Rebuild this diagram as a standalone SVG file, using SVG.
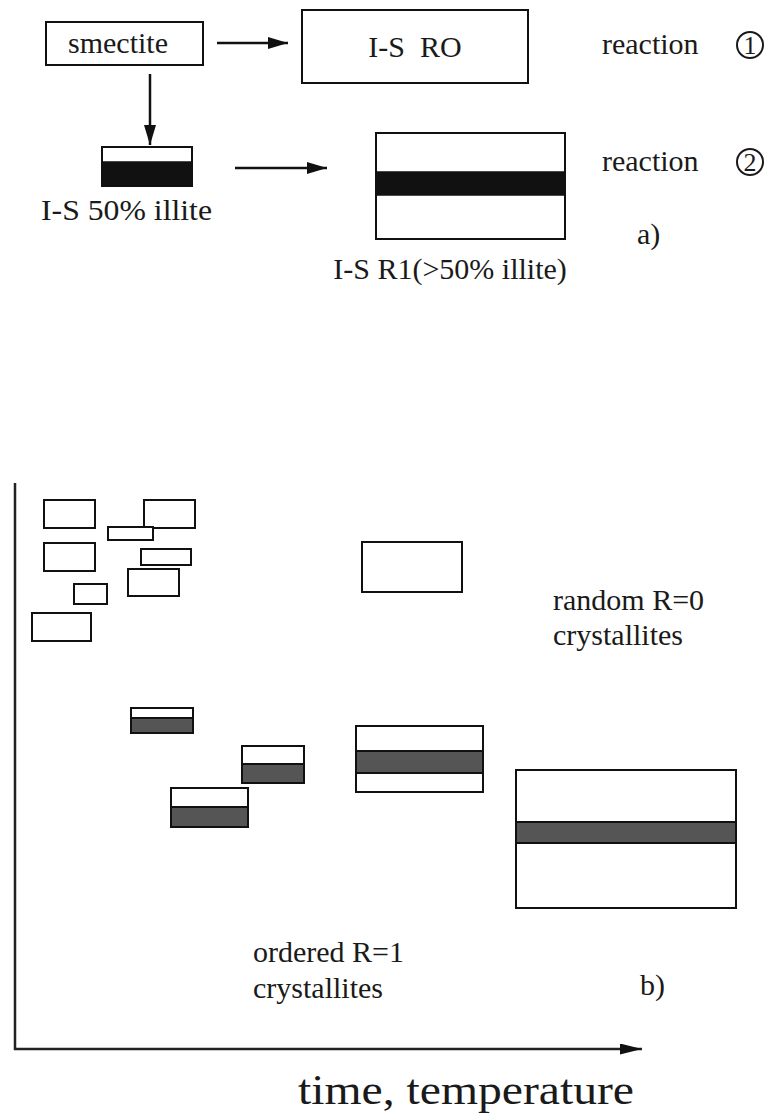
<svg xmlns="http://www.w3.org/2000/svg" width="764" height="1117" viewBox="0 0 764 1117">
  <style>
    .box { fill: #fff; stroke: #111; stroke-width: 2; }
    .band { fill: #111; stroke: #111; stroke-width: 1.5; }
    .gband { fill: #555; stroke: #111; stroke-width: 2; }
    .lbl { font-family: "Liberation Serif", "Times New Roman", serif; font-size: 30px; fill: #1a1a1a; }
    .num { font-family: "Liberation Serif", "Times New Roman", serif; font-size: 26px; fill: #1a1a1a; }
    .axlbl { font-family: "Liberation Serif", "Times New Roman", serif; font-size: 42px; fill: #1a1a1a; }
    .axis { stroke: #222; stroke-width: 2.5; fill: none; }
    .conn { stroke: #111; stroke-width: 2.5; fill: none; }
    .ring { fill: none; stroke: #1a1a1a; stroke-width: 2; }
  </style>
  <defs>
    <!-- filled triangular heads, sized in user units -->
    <marker id="arrow" viewBox="0 0 10 10" refX="10" refY="5" markerWidth="20" markerHeight="12" markerUnits="userSpaceOnUse" orient="auto" preserveAspectRatio="none">
      <path d="M0,0 L10,5 L0,10 z" fill="#111"/>
    </marker>
    <marker id="arrowL" viewBox="0 0 10 10" refX="10" refY="5" markerWidth="22" markerHeight="11" markerUnits="userSpaceOnUse" orient="auto" preserveAspectRatio="none">
      <path d="M0,0 L10,5 L0,10 z" fill="#111"/>
    </marker>
  </defs>
  <rect width="764" height="1117" fill="#fff"/>

  <!-- panel a: reaction scheme -->
  <g id="smectite">
    <rect class="box" x="46" y="22" width="157" height="43"/>
    <text class="lbl" x="118" y="53" text-anchor="middle">smectite</text>
  </g>
  <g id="is-r0">
    <rect class="box" x="302" y="10" width="226" height="73"/>
    <text class="lbl" x="415" y="57" text-anchor="middle" xml:space="preserve">I-S  RO</text>
  </g>
  <g id="is-50">
    <rect class="box" x="102" y="147" width="90" height="39"/>
    <rect class="band" x="102" y="162" width="90" height="24"/>
    <text class="lbl" x="41" y="220" textLength="171" lengthAdjust="spacingAndGlyphs">I-S 50% illite</text>
  </g>
  <g id="is-r1">
    <rect class="box" x="376" y="133" width="189" height="106"/>
    <rect class="band" x="376" y="172" width="189" height="23"/>
    <text class="lbl" x="450" y="279" text-anchor="middle">I-S R1(&gt;50% illite)</text>
  </g>
  <g id="reaction-1">
    <text class="lbl" x="602" y="54">reaction</text>
    <circle class="ring" cx="750" cy="45" r="13"/>
    <text class="num" x="750" y="54" text-anchor="middle">1</text>
  </g>
  <g id="reaction-2">
    <text class="lbl" x="602" y="171">reaction</text>
    <circle class="ring" cx="750" cy="162" r="13"/>
    <text class="num" x="750" y="171" text-anchor="middle">2</text>
  </g>
  <text class="lbl" x="637" y="244">a)</text>

  <g id="connectors">
    <line class="conn" x1="217" y1="43" x2="288" y2="43" marker-end="url(#arrow)"/>
    <line class="conn" x1="150" y1="74" x2="150" y2="145" marker-end="url(#arrow)"/>
    <line class="conn" x1="235" y1="168" x2="327" y2="168" marker-end="url(#arrow)"/>
  </g>

  <!-- panel b: crystallite evolution -->
  <g id="axes">
    <line class="axis" x1="15" y1="483" x2="15" y2="1050"/>
    <line class="axis" x1="14" y1="1049" x2="642" y2="1049" marker-end="url(#arrowL)"/>
  </g>

  <g id="random-crystallites">
    <rect class="box" x="44" y="500" width="51" height="28"/>
    <rect class="box" x="144" y="500" width="51" height="28"/>
    <rect class="box" x="108" y="527" width="45" height="13"/>
    <rect class="box" x="44" y="543" width="51" height="28"/>
    <rect class="box" x="141" y="549" width="50" height="16"/>
    <rect class="box" x="128" y="569" width="51" height="27"/>
    <rect class="box" x="74" y="584" width="33" height="20"/>
    <rect class="box" x="32" y="613" width="59" height="28"/>
    <rect class="box" x="362" y="542" width="100" height="50"/>
  </g>

  <g id="ordered-crystallites">
    <rect class="box" x="131" y="708" width="62" height="25"/>
    <rect class="gband" x="131" y="718" width="62" height="15"/>
    <rect class="box" x="242" y="746" width="62" height="37"/>
    <rect class="gband" x="242" y="764" width="62" height="19"/>
    <rect class="box" x="171" y="788" width="77" height="39"/>
    <rect class="gband" x="171" y="807" width="77" height="20"/>
    <rect class="box" x="356" y="726" width="127" height="66"/>
    <rect class="gband" x="356" y="751" width="127" height="22"/>
    <rect class="box" x="516" y="770" width="220" height="138"/>
    <rect class="gband" x="516" y="822" width="220" height="21"/>
  </g>

  <g id="labels-b">
    <text class="lbl" x="553" y="610">random R=0</text>
    <text class="lbl" x="553" y="645">crystallites</text>
    <text class="lbl" x="253" y="962">ordered R=1</text>
    <text class="lbl" x="253" y="998">crystallites</text>
    <text class="lbl" x="640" y="995">b)</text>
    <text class="axlbl" x="298" y="1104" textLength="336" lengthAdjust="spacingAndGlyphs">time, temperature</text>
  </g>
</svg>
